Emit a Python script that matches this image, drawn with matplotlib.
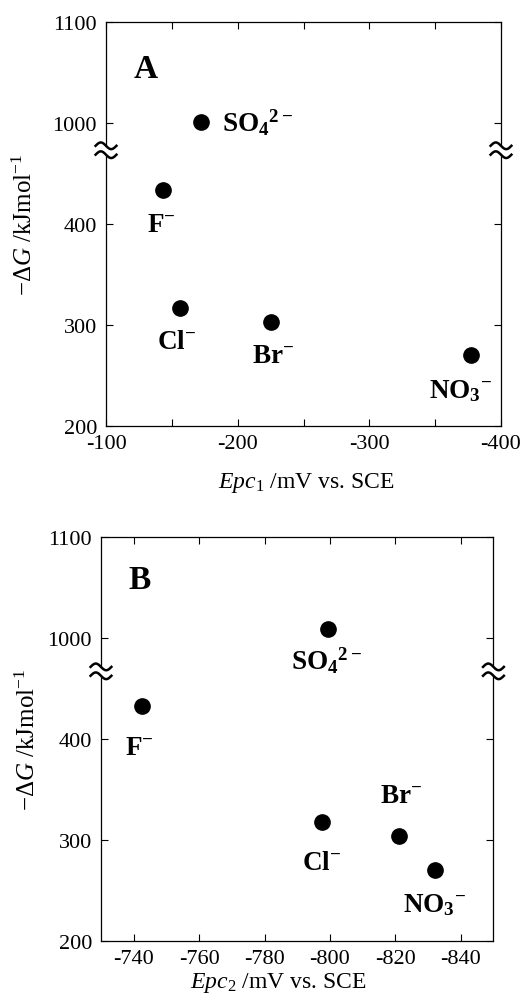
import matplotlib
matplotlib.use("Agg")
import matplotlib.pyplot as plt
import matplotlib.transforms as mtransforms
import numpy as np

plt.rcParams['font.family'] = ['Liberation Serif', 'DejaVu Serif']
plt.rcParams['mathtext.fontset'] = 'custom'
plt.rcParams['mathtext.rm'] = 'Liberation Serif'
plt.rcParams['mathtext.it'] = 'Liberation Serif:italic'
plt.rcParams['mathtext.bf'] = 'Liberation Serif:bold'
plt.rcParams['axes.unicode_minus'] = False

# anions: F-, Cl-, Br-, NO3-, SO4 2-
ion_labels = [r'$\mathbf{F}^{\mathbf{-}}$', r'$\mathbf{Cl}^{\mathbf{-}}$',
              r'$\mathbf{Br}^{\mathbf{-}}$', r'$\mathbf{NO_{3}}^{\mathbf{-}}$',
              r'$\mathbf{SO_{4}}^{\mathbf{2-}}$']

# panel A: first cathodic peak
epc1 = [-143, -156, -225, -377, -172]
dg_a = [434, 317, 303, 270, 1001]

# panel B: second cathodic peak
epc2 = [-742.6, -797.7, -821, -832, -799.5]
dg_b = [433, 318, 304, 270, 1009]

yticks = [200, 300, 400, 1000, 1100]
xticks_a = [-100, -200, -300, -400]
xminor_a = [-150, -250, -350]
xticks_b = [-740, -760, -780, -800, -820, -840]

GAP = 500  # hidden range of the broken y axis


def make_scale(b):
    def fwd(y):
        y = np.asarray(y, dtype=float)
        return np.where(y <= b, y, np.where(y >= b + GAP, y - GAP, b))

    def inv(t):
        t = np.asarray(t, dtype=float)
        return np.where(t <= b, t, t + GAP)
    return fwd, inv


def draw_break(ax, yb):
    fig = ax.figure
    t = np.linspace(-1, 1, 80)
    xs = 7.5 * t
    wave = -2.4 * np.sin(np.pi * t)
    for xa in (0, 1):
        tr = (mtransforms.Affine2D().scale(1 / 72) + fig.dpi_scale_trans
              + mtransforms.ScaledTranslation(xa, yb, ax.get_yaxis_transform()))
        px = np.concatenate([xs, xs[::-1]])
        py = np.concatenate([wave + 3.2, (wave - 3.2)[::-1]])
        ax.fill(px, py, transform=tr, color='white', zorder=3, clip_on=False)
        ax.plot(xs, wave + 3.2, transform=tr, color='black', lw=1.8,
                zorder=4, clip_on=False)
        ax.plot(xs, wave - 3.2, transform=tr, color='black', lw=1.8,
                zorder=4, clip_on=False)


def setup(ax, brk, xlim):
    ax.set_yscale('function', functions=make_scale(brk))
    ax.set_ylim(200, 1100)
    ax.set_xlim(*xlim)
    ax.set_yticks(yticks, labels=[str(v) for v in yticks])
    ax.tick_params(which='both', direction='in', top=True, right=True,
                   length=5, width=0.8, labelsize=16)
    ax.tick_params(axis='y', pad=6.5)
    ax.tick_params(axis='x', pad=6)
    for s in ax.spines.values():
        s.set_linewidth(0.9)
    ax.set_ylabel(r'$-\Delta\mathit{G}$ /kJmol$^{-1}$', fontsize=18)
    ax.yaxis.label.set_va('center')
    draw_break(ax, brk)


def put_labels(ax, xs, ys, offsets):
    ax.plot(xs, ys, 'o', color='black', ms=11, clip_on=False, zorder=5)
    for x, y, lab, (dx, dy, ha) in zip(xs, ys, ion_labels, offsets):
        ax.annotate(lab, (x, y), xytext=(dx, dy), textcoords='offset pixels',
                    ha=ha, va='center', fontsize=19.5)


fig = plt.figure(figsize=(5.24, 10.03), dpi=100)

ax1 = fig.add_axes([0.2023, 0.5743, 0.7538, 0.4028])
setup(ax1, 473, (-100, -400))
ax1.set_xticks(xticks_a, labels=[str(v) for v in xticks_a])
ax1.set_xticks(xminor_a, minor=True)
put_labels(ax1, epc1, dg_a,
           [(-1, -35, 'center'), (-3, -34, 'center'), (3, -34, 'center'),
            (-10, -35, 'center'), (21, 0, 'left')])
ax1.text(0.101, 0.884, 'A', transform=ax1.transAxes, fontsize=24,
         fontweight='bold', ha='center', va='center')
ax1.set_xlabel(r'$Epc_{1}$ /mV vs. SCE', fontsize=17)
ax1.xaxis.set_label_coords(0.506, -0.108)
ax1.yaxis.set_label_coords(-0.205, 0.5)

ax2 = fig.add_axes([0.1927, 0.0608, 0.7490, 0.4028])
setup(ax2, 467, (-730, -850))
ax2.set_xticks(xticks_b, labels=[str(v) for v in xticks_b])
put_labels(ax2, epc2, dg_b,
           [(-3, -42, 'center'), (-1, -41, 'center'), (2, 40, 'center'),
            (0, -34, 'center'), (-2, -31, 'center')])
ax2.text(0.099, 0.896, 'B', transform=ax2.transAxes, fontsize=24,
         fontweight='bold', ha='center', va='center')
ax2.set_xlabel(r'$Epc_{2}$ /mV vs. SCE', fontsize=17)
ax2.xaxis.set_label_coords(0.451, -0.072)
ax2.yaxis.set_label_coords(-0.186, 0.5)

fig.savefig('out.png', dpi=100)
